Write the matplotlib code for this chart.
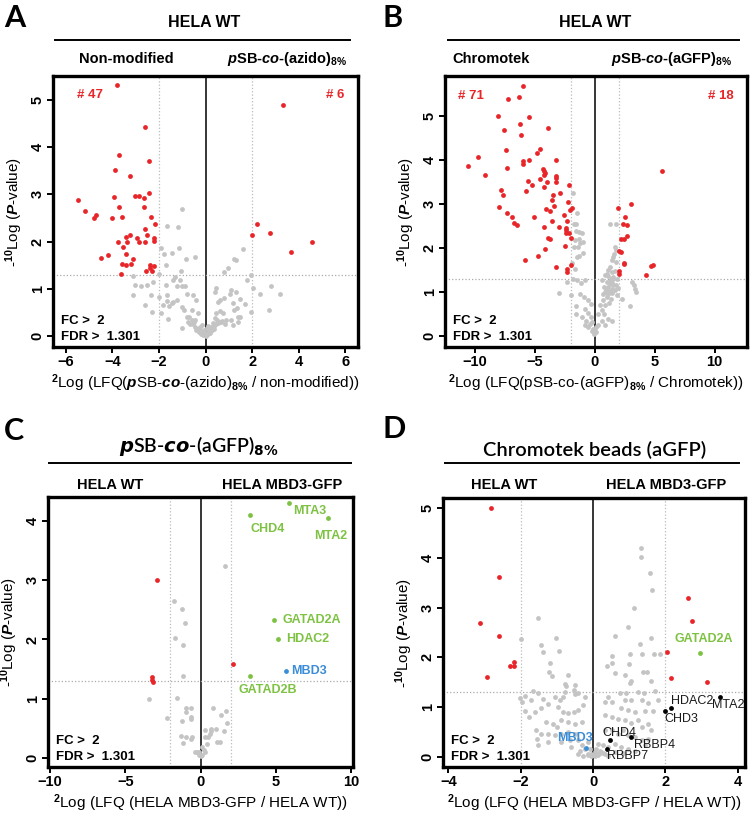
import matplotlib
matplotlib.use("Agg")
import matplotlib.pyplot as plt
from matplotlib.lines import Line2D

plt.rcParams['font.family'] = ['Liberation Sans', 'DejaVu Sans']
plt.rcParams['font.weight'] = 'bold'
plt.rcParams['mathtext.fontset'] = 'custom'
plt.rcParams['mathtext.rm'] = 'Liberation Sans:bold'
plt.rcParams['mathtext.bf'] = 'Liberation Sans:bold'
plt.rcParams['mathtext.it'] = 'Liberation Sans:italic:bold'

RED = '#e8262a'
GRAY = '#c4c4c4'
GREEN = '#7dc242'
BLUE = '#3a8dd6'

# ---- Panel A: pSB-co-(azido)8% vs non-modified
a_red_x = [-3.80, -5.47, -5.16, -4.79, -4.71, -4.47, -4.19, -4.01, -3.93, -3.87, -3.73, -3.73, -3.74, -3.61,
           -3.57, -3.57, -3.54, -3.41, -3.41, -3.40, -3.36, -3.24, -3.24, -3.19, -3.13, -3.04, -2.96, -2.87,
           -2.84, -2.64, -2.66, -2.60, -2.60, -2.59, -2.56, -2.50, -2.44, -2.44, -2.40, -2.37, -2.34, -2.31,
           -2.21, -2.21, -2.21, -2.19, 3.31, 2.19, 2.00, 2.76, 3.69, 4.56]
a_red_y = [5.30, 2.88, 2.65, 2.49, 2.57, 1.66, 1.72, 2.49, 2.94, 3.52, 3.83, 2.72, 2.00, 1.32,
           2.51, 1.53, 1.89, 1.50, 2.10, 1.74, 1.98, 3.38, 2.14, 1.52, 1.62, 2.97, 2.08, 2.97,
           1.98, 2.91, 2.73, 1.98, 4.42, 2.27, 1.38, 2.13, 3.71, 3.03, 1.50, 1.45, 2.51, 1.38,
           1.48, 2.08, 2.01, 2.37, 4.88, 2.38, 2.14, 2.18, 1.77, 1.98]
a_gray_x = [-1.01, -1.64, -1.20, -1.43, -1.13, -1.90, -1.80, -0.47, -0.84, -1.69, -1.07, -1.99, -3.13,
            1.24, 1.29, 1.63, 0.79, 0.96, 1.97, 1.77, 2.04, 2.33, 2.83, 3.19, 2.73, 1.96, 1.70, 1.47,
            1.30, 1.10, 1.36, 1.47, 1.41, -3.10, -3.03, -2.76, -2.53, -2.36, -2.24, -2.59, -2.29, -1.99,
            -1.81, -1.70, -1.67, -1.90, -1.63, -1.39, -1.31, -1.24, -1.10, -1.03, -0.89, -0.81, -1.39,
            -1.24, -1.57, -1.46, -1.67, -1.00, -0.93, -0.81, -0.60, -0.53, -0.39, -0.31, -1.03, -0.60,
            -0.46, -0.74, 0.47, 0.54, 0.61, 0.47, 0.40, 0.79, 1.04, 1.19, 1.23, 0.73, 0.90, 1.11, 0.61,
            0.33, 1.19, 1.40, 0.64, -0.55, -0.45, -0.35, -0.28, -0.20, -0.12, -0.05, 0.02, 0.08, 0.15,
            0.22, 0.30, 0.38, 0.45, 0.55, 0.65, -0.40, -0.30, -0.18, -0.10, 0.00, 0.10, 0.18, 0.28,
            0.35, -0.25, -0.15, 0.05, 0.12, 0.25, -0.65, -0.50, 0.50, 0.70, 0.85, -0.70, 0.42, -0.08]
a_gray_y = [2.68, 2.33, 2.31, 1.75, 1.86, 1.86, 1.73, 1.67, 1.64, 1.51, 1.38, 1.32, 1.27,
            1.64, 1.61, 1.85, 1.36, 1.45, 1.29, 1.19, 1.01, 0.88, 1.05, 0.90, 0.55, 0.50, 0.68, 0.78,
            0.94, 0.97, 0.60, 0.41, 0.30, 0.87, 1.08, 1.07, 1.08, 0.87, 1.15, 0.66, 0.50, 0.83,
            0.66, 1.09, 0.87, 0.48, 0.37, 1.19, 1.26, 1.07, 1.19, 1.07, 1.05, 0.90, 0.73,
            0.76, 0.64, 0.69, 0.74, 0.62, 0.56, 0.41, 0.55, 0.87, 0.76, 0.48, 0.18, 0.34,
            0.34, 0.30, 0.48, 0.73, 0.76, 1.01, 0.94, 0.80, 0.90, 0.69, 0.55, 0.48, 0.34, 0.34, 0.30,
            0.27, 0.23, 0.40, 0.54, 0.25, 0.20, 0.15, 0.12, 0.10, 0.08, 0.05, 0.03, 0.06, 0.10,
            0.14, 0.18, 0.22, 0.26, 0.28, 0.30, 0.12, 0.08, 0.05, 0.02, 0.01, 0.04, 0.07, 0.12,
            0.16, 0.20, 0.24, 0.18, 0.22, 0.20, 0.25, 0.30, 0.35, 0.32, 0.25, 0.40, 0.38, 0.14]

# ---- Panel B: pSB-co-(aGFP)8% vs Chromotek
b_red_x = [-10.6, -9.76, -9.12, -8.08, -7.85, -7.69, -8.02, -7.55, -7.43, -7.35, -7.29, -6.87, -6.73, -6.45,
           -6.23, -6.14, -6.03, -5.95, -5.83, -5.55, -5.50, -5.47, -5.27, -5.05, -4.80, -4.77, -4.57, -4.54,
           -4.29, -4.24, -4.21, -4.18, -4.21, -4.21, -4.12, -4.04, -3.96, -3.90, -3.87, -3.73, -3.70, -3.56,
           -3.45, -3.42, -3.25, -3.23, -3.20, -3.20, -3.23, -2.99, -2.92, -2.61, -2.47, -2.44, -2.41, -2.38,
           -2.30, -2.30, -2.30, -2.19, -2.24, -2.19, -2.10, -2.02, -2.02, -1.94, -6.03, -6.36, -7.25, -5.70,
           -3.60,
           1.94, 3.00, 2.50, 2.33, 2.72, 2.72, 2.16, 2.44, 1.99, 2.19, 2.41, 2.47, 1.99, 1.99, 4.26, 4.66,
           4.82, 5.61]
b_red_y = [3.86, 4.07, 3.65, 4.99, 3.32, 3.21, 2.92, 4.67, 4.22, 3.82, 2.79, 2.71, 2.56, 2.52,
           4.82, 4.57, 3.91, 3.97, 1.73, 3.51, 4.96, 3.99, 3.42, 2.70, 4.15, 1.81, 4.25, 3.56,
           3.80, 3.75, 3.37, 3.69, 2.48, 3.65, 1.97, 2.88, 3.50, 4.72, 2.23, 2.83, 2.19, 3.09,
           3.21, 2.96, 3.63, 3.58, 3.99, 3.50, 1.57, 2.48, 3.25, 2.74, 2.05, 2.46, 2.40, 2.33,
           2.61, 1.53, 1.45, 3.42, 3.03, 2.33, 2.86, 1.60, 2.22, 2.91, 5.68, 5.43, 5.37, 3.30,
           2.60,
           2.91, 2.99, 2.69, 2.55, 2.51, 2.27, 2.19, 2.19, 1.93, 1.90, 1.65, 1.63, 1.47, 1.40, 1.39, 1.58,
           1.61, 3.74]
b_gray_x = [-1.80, -1.51, -1.74, -1.54, -1.60, -1.29, -1.04, -1.68, -1.35, -1.21, -0.98, -1.74, -1.40,
            -0.98, -1.49, -1.35, -1.91, -1.68, -2.36, -1.82, -1.46, -1.12, -0.84, -3.00, -1.96, -1.26,
            -0.93, -0.56, -1.54, -0.34, -0.84, -0.56, -1.54, -1.07, -0.76, -0.28, -0.84, -0.42, -0.22,
            -0.14, 0.00, 0.14, -0.06, 0.08,
            1.26, 1.80, 1.68, 1.74, 1.63, 1.54, 1.46, 1.77, 1.26, 1.12, 1.40, 1.68, 0.84, 1.12, 1.35,
            1.54, 1.82, 0.56, 0.98, 1.26, 1.46, 1.74, 0.79, 1.12, 1.40, 1.68, 1.96, 0.84, 1.12, 1.46,
            1.82, 2.30, 3.09, 3.23, 3.37, 3.42, 2.95, 0.65, 0.42, 0.84, 1.21, 0.56, 0.28, 0.79, 1.46,
            1.12, 0.56, 0.28, 0.84, -0.56, -0.22, 1.00, 1.30, 1.55, 0.95, 1.20, 1.50, 1.05, 1.35, 0.70]
b_gray_y = [3.24, 2.80, 2.55, 2.55, 2.38, 2.36, 2.34, 2.17, 2.19, 2.11, 2.14, 2.02, 2.01,
            1.89, 1.79, 1.81, 1.66, 1.53, 1.22, 1.30, 1.28, 1.20, 1.26, 0.98, 0.93, 0.96,
            0.88, 0.82, 0.69, 0.73, 0.62, 0.52, 0.49, 0.43, 0.35, 0.43, 0.26, 0.27, 0.31,
            0.16, 0.12, 0.20, 0.05, 0.08,
            2.55, 2.55, 2.02, 1.96, 1.87, 1.79, 1.72, 1.67, 1.57, 1.49, 1.45, 1.47, 1.38, 1.36, 1.30,
            1.34, 1.30, 1.26, 1.22, 1.19, 1.20, 1.15, 1.12, 1.11, 1.07, 1.05, 1.09, 1.00, 0.96, 0.97,
            0.92, 0.84, 1.22, 1.16, 1.07, 1.00, 0.67, 0.81, 0.71, 0.71, 0.74, 0.58, 0.50, 0.50, 0.35,
            0.39, 0.35, 0.24, 0.24, 0.21, 0.12, 1.40, 1.25, 1.15, 1.05, 1.02, 1.30, 0.88, 0.85, 0.95]

# ---- Panel C: pSB-co-(aGFP)8% pulldown, MBD3-GFP vs WT
c_red_x = [-2.90, 2.13, -3.23, -3.21, -3.19]
c_red_y = [3.01, 1.59, 1.36, 1.32, 1.28]
c_green_names = ['MTA3', 'MTA2', 'CHD4', 'GATAD2A', 'HDAC2', 'GATAD2B']
c_green_x = [5.89, 8.46, 3.25, 4.88, 5.12, 3.25]
c_green_y = [4.30, 4.05, 4.09, 2.32, 2.01, 1.39]
c_blue_x = [5.65]
c_blue_y = [1.46]
c_gray_x = [1.65, -1.74, -1.25, -1.05, -1.71, -1.19, -1.14, -3.45, -2.22, -1.54, -0.99, -0.95, -0.62,
            -0.66, -0.62, -1.21, -1.32, -1.16, -0.95, -0.66, -0.57, 0.84, 1.32, 1.71, 1.76, 1.56, 1.27,
            1.10, 0.66, 0.70, 0.26, 0.26, 0.48, 0.59, 1.03, 0.44, 0.11, -0.09, -0.26, -0.40, 0.26,
            0.11, 0.00, -0.13, 0.22]
c_gray_y = [3.24, 2.64, 2.52, 2.28, 2.03, 1.91, 1.39, 1.00, 0.68, 1.01, 0.85, 0.78, 0.84,
            0.69, 0.66, 0.63, 0.38, 0.26, 0.36, 0.33, 0.35, 0.85, 0.72, 0.79, 0.60, 0.45, 0.28,
            0.27, 0.49, 0.45, 0.47, 0.36, 0.36, 0.41, 0.49, 0.23, 0.19, 0.10, 0.11, 0.11, 0.10,
            0.05, 0.03, 0.06, 0.14]

# ---- Panel D: Chromotek beads, MBD3-GFP vs WT
d_red_x = [-2.82, -2.61, -3.12, -2.60, -2.20, -2.31, -2.18, -2.94, 2.61, 2.73, 2.04, 2.14, 3.15]
d_red_y = [5.00, 3.61, 2.69, 2.43, 1.91, 1.82, 1.82, 1.61, 3.19, 2.73, 2.11, 1.58, 1.50]
d_green_x = [2.95]
d_green_y = [2.09]
d_black_names = ['MTA2', 'HDAC2', 'CHD3', 'CHD4', 'RBBP4', 'RBBP7']
d_black_x = [3.52, 2.14, 2.00, 0.46, 1.04, 0.38]
d_black_y = [1.21, 0.99, 0.93, 0.34, 0.40, 0.16]
d_blue_x = [-0.21]
d_blue_y = [0.18]
d_gray_x = [1.31, 1.31, 1.57, 1.64, 1.12, 0.97, 1.59, 1.29, -1.53, -1.03, -2.00, -1.45, -1.38, -0.95,
            -1.20, -1.23, -1.13, -0.69, -0.78, -0.74, -0.51, -0.54, 0.60, 0.53, 0.53, 1.03, 0.99, 1.34,
            1.67, 1.86, 1.37, 1.50, 0.39, 0.60, 0.88, 1.01, 1.06, 1.25, 1.41, 1.71, 1.60,
            -2.02, -1.96, -1.87, -1.65, -1.52, -1.38, -1.71, -1.87, -1.78, -1.61, -1.45, -1.25, -1.06,
            -0.92, -0.83, -0.77, -0.51, -0.42, -0.23, -0.97, -0.83, -0.69, -0.54, -0.42, -0.28, -1.29,
            -1.11, -0.99, -0.88, -0.69, -0.51, -0.32, -1.57, -1.43, -1.25, -1.06, -0.88, -0.69, -0.51,
            -1.56, -1.52, -1.25, -0.88, -0.65, -0.42, -0.32, -0.14, -0.23, -0.09, -0.05, 0.05, 0.14,
            0.23, 0.32, 0.42, -0.14, -0.42, -0.28,
            0.32, 0.42, 0.53, 0.74, 0.88, 0.92, 1.06, 0.78, 0.97, 1.15, 1.34, 1.52, 1.43, 1.66, 1.80,
            0.32, 0.51, 0.69, 0.88, 1.06, 1.25, 1.34, 1.52, 1.61, 0.32, 0.51, 0.69, 0.83, 0.97, 1.15,
            1.34, 1.52, 1.43, 0.14, 0.28, 0.42, 0.60, 0.78, 0.97, 1.15, 0.60, 0.83, 0.09, 0.18, 0.28,
            -0.60, -0.35, -0.15, 0.00, 0.20, 0.05, -0.05, 0.12]
d_gray_y = [4.19, 4.02, 3.70, 3.36, 2.99, 2.62, 2.38, 2.27, 2.80, 2.39, 2.36, 2.24, 2.10, 2.12,
            1.89, 1.70, 1.62, 1.64, 1.46, 1.42, 1.45, 1.35, 2.43, 2.02, 1.89, 2.06, 1.87, 2.07,
            2.07, 2.06, 1.70, 1.70, 1.82, 1.68, 1.65, 1.48, 1.52, 1.30, 1.29, 1.33, 1.52,
            1.19, 1.11, 1.23, 1.33, 1.28, 1.17, 1.15, 0.93, 0.81, 0.91, 0.98, 1.06, 1.21,
            1.15, 1.20, 1.30, 1.26, 1.28, 1.21, 1.01, 0.90, 0.88, 0.90, 0.94, 1.04, 0.71,
            0.66, 0.61, 0.74, 0.71, 0.67, 0.71, 0.54, 0.47, 0.47, 0.44, 0.47, 0.51, 0.47,
            0.37, 0.24, 0.30, 0.30, 0.34, 0.34, 0.24, 0.30, 0.17, 0.17, 0.07, 0.03, 0.05,
            0.10, 0.07, 0.03, 0.07, 0.07, 0.03,
            1.11, 1.21, 1.11, 1.28, 1.15, 1.28, 1.15, 0.98, 0.94, 0.91, 1.15, 1.08, 0.93, 0.93, 1.15,
            0.84, 0.81, 0.77, 0.74, 0.69, 0.74, 0.61, 0.67, 0.54, 0.54, 0.54, 0.47, 0.54, 0.44, 0.40,
            0.35, 0.37, 0.24, 0.27, 0.24, 0.20, 0.27, 0.20, 0.17, 0.12, 0.10, 0.08, 0.17, 0.13, 0.08,
            0.20, 0.12, 0.05, 0.04, 0.09, 0.10, 0.02, 0.06]

fig = plt.figure(figsize=(7.5, 8.14), dpi=100)

def volcano(rect, xlim, ylim, xticks, yticks, xlabel):
    ax = fig.add_axes(rect)
    ax.set_xlim(xlim)
    ax.set_ylim(ylim)
    ax.set_xticks(xticks)
    ax.set_yticks(yticks)
    for s in ax.spines.values():
        s.set_linewidth(2.4)
    ax.tick_params(direction='out', length=4, width=1.4, labelsize=10.5, pad=2)
    for t in ax.get_yticklabels():
        t.set_rotation(90)
        t.set_va('center')
    ax.set_xlabel(xlabel, fontsize=11, labelpad=2)
    ax.set_ylabel(r'-$^{10}$Log ($\mathit{P}$-value)', fontsize=11, labelpad=4)
    ax.axvline(0, color='black', lw=1.1, zorder=1)
    ax.axvline(-2, color='#bbbbbb', lw=0.9, ls=':', zorder=1)
    ax.axvline(2, color='#bbbbbb', lw=0.9, ls=':', zorder=1)
    ax.axhline(1.301, color='#aaaaaa', lw=0.9, ls=':', zorder=1)
    ax.text(0.025, 0.085, 'FC >  2', transform=ax.transAxes, fontsize=9.5)
    ax.text(0.025, 0.025, 'FDR >  1.301', transform=ax.transAxes, fontsize=9.5)
    return ax

def header(xc, x0, x1, title, left, right, lx, rx, y, ly, sy, title_kw=None):
    kw = dict(fontsize=11.5, fontweight='bold')
    if title_kw:
        kw = title_kw
    fig.text(xc, y, title, ha='center', va='center', **kw)
    fig.add_artist(Line2D([x0, x1], [ly, ly], color='black', lw=1.4))
    fig.text(lx, sy, left, ha='center', va='center', fontsize=10.5)
    fig.text(rx, sy, right, ha='center', va='center', fontsize=10.5)

pt = 12

# A
axA = volcano([0.0707, 0.5737, 0.4067, 0.333], (-6.55, 6.55), (-0.23, 5.5), [-6, -4, -2, 0, 2, 4, 6],
              [0, 1, 2, 3, 4, 5], r'$^{2}$Log (LFQ($\mathit{p}$SB-$\mathit{co}$-(azido)$_{8\%}$ / non-modified))')
axA.scatter(a_gray_x, a_gray_y, s=pt, color=GRAY, linewidths=0, zorder=2)
axA.scatter(a_red_x, a_red_y, s=pt, color=RED, linewidths=0, zorder=3)
axA.text(0.08, 0.93, '# 47', transform=axA.transAxes, color=RED, fontsize=9.5, va='center')
axA.text(0.955, 0.93, '# 6', transform=axA.transAxes, color=RED, fontsize=9.5, va='center', ha='right')
header(0.272, 0.073, 0.467, 'HELA WT', 'Non-modified', r'$\mathit{p}$SB-$\mathit{co}$-(azido)$_{8\%}$',
       0.168, 0.383, 0.972, 0.951, 0.928)

# B
axB = volcano([0.5933, 0.5737, 0.4027, 0.333], (-12.5, 12.7), (-0.25, 5.9), [-10, -5, 0, 5, 10],
              [0, 1, 2, 3, 4, 5], r'$^{2}$Log (LFQ(pSB-co-(aGFP)$_{8\%}$ / Chromotek))')
axB.scatter(b_gray_x, b_gray_y, s=pt, color=GRAY, linewidths=0, zorder=2)
axB.scatter(b_red_x, b_red_y, s=pt, color=RED, linewidths=0, zorder=3)
axB.text(0.043, 0.926, '# 71', transform=axB.transAxes, color=RED, fontsize=9.5, va='center')
axB.text(0.955, 0.926, '# 18', transform=axB.transAxes, color=RED, fontsize=9.5, va='center', ha='right')
header(0.793, 0.597, 0.985, 'HELA WT', 'Chromotek', r'$\mathit{p}$SB-$\mathit{co}$-(aGFP)$_{8\%}$',
       0.655, 0.895, 0.972, 0.951, 0.928)

# C
axC = volcano([0.064, 0.0577, 0.407, 0.3317], (-10.13, 10.13), (-0.15, 4.4), [-10, -5, 0, 5, 10],
              [0, 1, 2, 3, 4], r'$^{2}$Log (LFQ (HELA MBD3-GFP / HELA WT))')
axC.scatter(c_gray_x, c_gray_y, s=pt, color=GRAY, linewidths=0, zorder=2)
axC.scatter(c_red_x, c_red_y, s=pt, color=RED, linewidths=0, zorder=3)
axC.scatter(c_green_x, c_green_y, s=pt, color=GREEN, linewidths=0, zorder=3)
axC.scatter(c_blue_x, c_blue_y, s=pt, color=BLUE, linewidths=0, zorder=3)
c_offsets = {'MTA3': (3, -6), 'MTA2': (-10, -13), 'CHD4': (1, -10), 'GATAD2A': (6, 0),
             'GATAD2B': (-8, -10), 'HDAC2': (6, 0)}
for name, x, y in zip(c_green_names, c_green_x, c_green_y):
    axC.annotate(name, (x, y), xytext=c_offsets[name], textcoords='offset points', color=GREEN,
                 fontsize=9, va='center')
axC.annotate('MBD3', (c_blue_x[0], c_blue_y[0]), xytext=(4, 0), textcoords='offset points', color=BLUE,
             fontsize=9, va='center')
header(0.265, 0.065, 0.468, r'$\mathit{p}$SB-$\mathit{co}$-(aGFP)$_{8\%}$', 'HELA WT', 'HELA MBD3-GFP',
       0.147, 0.376, 0.452, 0.431, 0.404,
       title_kw=dict(fontsize=14, fontweight='semibold', family='Lato', math_fontfamily='dejavusans'))

# D
axD = volcano([0.5907, 0.0577, 0.4027, 0.3305], (-4.15, 4.2), (-0.2, 5.2), [-4, -2, 0, 2, 4],
              [0, 1, 2, 3, 4, 5], r'$^{2}$Log (LFQ (HELA MBD3-GFP / HELA WT))')
axD.scatter(d_gray_x, d_gray_y, s=pt, color=GRAY, linewidths=0, zorder=2)
axD.scatter(d_red_x, d_red_y, s=pt, color=RED, linewidths=0, zorder=3)
axD.scatter(d_green_x, d_green_y, s=pt, color=GREEN, linewidths=0, zorder=3)
axD.scatter(d_black_x, d_black_y, s=pt, color='black', linewidths=0, zorder=3)
axD.scatter(d_blue_x, d_blue_y, s=pt, color=BLUE, linewidths=0, zorder=3)
axD.annotate('GATAD2A', (d_green_x[0], d_green_y[0]), xytext=(3, 6), textcoords='offset points',
             color=GREEN, fontsize=9, va='bottom', ha='center')
d_offsets = {'MTA2': (-6, -6), 'HDAC2': (0, 5), 'CHD3': (-1, -6), 'CHD4': (-5, 5),
             'RBBP4': (2, -6), 'RBBP7': (0, -5)}
for name, x, y in zip(d_black_names, d_black_x, d_black_y):
    axD.annotate(name, (x, y), xytext=d_offsets[name], textcoords='offset points', color='#1a1a1a',
                 fontsize=9, va='center', fontweight='normal')
axD.annotate('MBD3', (d_blue_x[0], d_blue_y[0]), xytext=(5, 7), textcoords='offset points', color=BLUE,
             fontsize=9, va='center', ha='right')
header(0.793, 0.593, 0.985, 'Chromotek beads (aGFP)', 'HELA WT', 'HELA MBD3-GFP', 0.672, 0.888,
       0.447, 0.431, 0.404, title_kw=dict(fontsize=14.5, fontweight='semibold', family='Lato'))

# panel letters
for lab, x, y in [('A', 0.005, 0.978), ('B', 0.51, 0.978), ('C', 0.005, 0.47), ('D', 0.51, 0.473)]:
    fig.text(x, y, lab, fontsize=22, fontweight='bold', family='Lato', va='center')

fig.savefig('out.png', dpi=100)
